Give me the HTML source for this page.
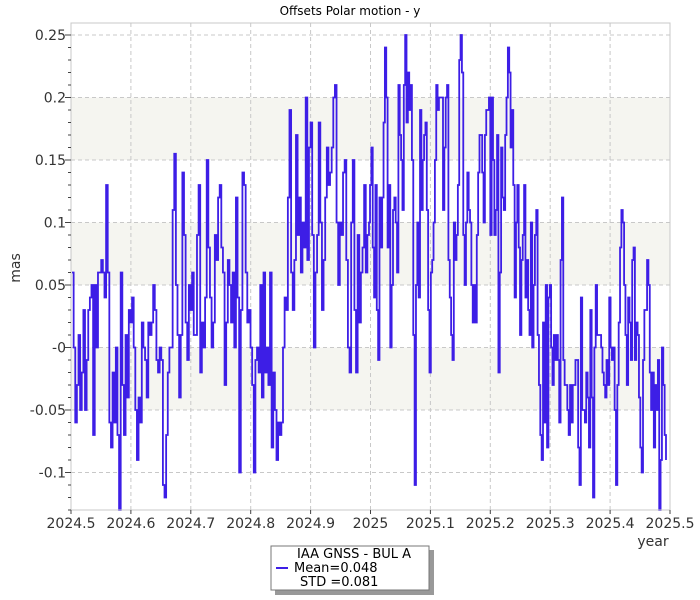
<!DOCTYPE html>
<html><head><meta charset="utf-8"><style>
html,body{margin:0;padding:0;background:#fff;}
svg{display:block;font-family:"DejaVu Sans","Liberation Sans",sans-serif;}
</style></head><body>
<svg id="chart" width="700" height="600" viewBox="0 0 700 600">
<text x="350" y="15" text-anchor="middle" font-size="12" fill="#000">Offsets Polar motion - y</text>
<g id="bands"></g>
<g id="grid"></g>
<g id="series"></g>
<rect x="71" y="23" width="599" height="487" fill="none" stroke="#c8c8c8"/>
<g id="axes"></g>
<text x="20" y="268" text-anchor="middle" font-size="14" fill="#333" transform="rotate(-90 20 268)">mas</text>
<text x="653" y="546" text-anchor="middle" font-size="14" fill="#333">year</text>
<g>
<rect x="275" y="550" width="159" height="45" fill="#999"/>
<rect x="271" y="546" width="158" height="44" fill="#fff" stroke="#777"/>
<line x1="276" y1="568" x2="288" y2="568" stroke="#3d1ee6" stroke-width="2"/>
<text x="297" y="558" font-size="13" fill="#000">IAA GNSS - BUL A</text>
<text x="294" y="572" font-size="13" fill="#000">Mean=0.048</text>
<text x="300" y="586" font-size="13" fill="#000">STD =0.081</text>
</g>
</svg>
<script>
const xTicks=[2024.5,2024.6,2024.7,2024.8,2024.9,2025,2025.1,2025.2,2025.3,2025.4,2025.5];
const xTickLabels=["2024.5","2024.6","2024.7","2024.8","2024.9","2025","2025.1","2025.2","2025.3","2025.4","2025.5"];
const yTicks=[0.25,0.2,0.15,0.1,0.05,0,-0.05,-0.1];
const yTickLabels=["0.25","0.2","0.15","0.1","0.05","-0","-0.05","-0.1"];
const bandRanges=[[0.15,0.2],[0.05,0.1],[-0.05,0]];
const start2024=2024.5017;
const end2024=2024.9975;
const values2024=[
0.06,0.0,-0.06,-0.03,0.01,-0.05,-0.02,0.03,-0.05,-0.01,0.03,0.04,0.05,-0.07,0.05,0.0,0.06,0.06,0.07,0.06,0.04,0.13,0.06,-0.06,-0.08,-0.02,-0.06,0.0,-0.07,-0.13,0.06,-0.03,-0.07,0.01,-0.04,0.03,0.02,0.04,0.0,-0.05,-0.09,-0.04,-0.06,0.02,0.0,-0.01,-0.04,0.02,0.01,0.02,0.05,0.03,-0.01,-0.02,0.0,-0.01,-0.11,-0.12,-0.07,-0.02,0.0,0.0,0.11,0.155,0.05,0.01,-0.04,0.01,0.14,0.09,0.02,-0.01,0.05,0.03,0.06,0.01,0.01,0.09,0.13,-0.02,0.02,0.0,0.04,0.15,0.08,0.04,0.0,0.02,0.09,0.07,0.12,0.13,0.08,0.06,-0.03,0.02,0.07,0.05,0.02,0.06,0.0,0.12,0.04,-0.1,0.03,0.14,0.13,0.06,0.02,0.03,0.0,-0.03,-0.1,-0.01,0.0,-0.02,0.05,-0.04,0.06,-0.02,0.0,-0.03,0.06,-0.08,-0.02,-0.05,-0.09,-0.06,-0.07,-0.06,0.0,0.04,0.03,0.12,0.19,0.06,0.03,0.07,0.17,0.09,0.12,0.06,0.1,0.08,0.2,0.07,0.16,0.18,0.09,0.0,0.06,0.09,0.18,0.1,0.03,0.07,0.12,0.16,0.13,0.14,0.16,0.2,0.21,0.1,0.05,0.1,0.09,0.14,0.15,0.07,0.0,-0.02,0.1,0.15,0.03,-0.02,0.09,0.02,0.06,0.08,0.13,0.06,0.09,0.1
];
const start2025=2024.9992;
const end2025=2025.4933;
const values2025=[
0.13,0.16,0.08,0.04,0.13,0.03,-0.01,0.12,0.08,0.12,0.18,0.24,0.2,0.08,0.13,0.0,0.05,0.11,0.12,0.1,0.06,0.21,0.17,0.15,0.11,0.21,0.25,0.18,0.22,0.19,0.21,0.15,0.01,-0.11,0.05,0.1,0.04,0.19,0.11,0.15,0.17,0.18,0.11,0.03,-0.02,0.06,0.07,0.1,0.15,0.21,0.19,0.2,0.2,0.2,0.11,0.16,0.2,0.21,0.07,0.04,0.01,-0.01,0.1,0.07,0.09,0.13,0.23,0.25,0.22,0.09,0.05,0.1,0.14,0.11,0.1,0.05,0.02,0.05,0.02,0.09,0.14,0.17,0.17,0.14,0.1,0.17,0.19,0.19,0.2,0.09,0.2,0.15,0.09,0.11,0.17,-0.02,0.06,0.16,0.12,0.11,0.17,0.2,0.24,0.22,0.16,0.19,0.13,0.04,0.1,0.13,0.08,0.01,0.07,0.09,0.13,0.04,0.07,0.03,0.01,0.1,0.0,0.05,0.09,0.11,0.01,-0.03,-0.07,-0.09,0.02,-0.06,0.05,-0.08,0.04,0.05,0.0,-0.03,0.01,-0.01,0.01,-0.01,-0.06,0.07,0.12,-0.01,-0.03,-0.03,-0.05,-0.07,-0.03,-0.06,-0.03,-0.03,-0.01,-0.01,-0.08,-0.11,0.04,-0.05,-0.05,-0.06,-0.02,-0.04,-0.08,0.03,-0.04,-0.12,0.0,0.05,0.01,0.01,0.01,0.0,-0.02,-0.03,-0.04,-0.01,-0.03,0.04,0.0,-0.01,0.0,-0.05,-0.11,-0.03,0.02,0.08,0.11,0.1,0.05,0.01,-0.03,0.04,0.02,-0.01,0.07,0.08,-0.01,0.02,0.01,-0.04,-0.08,-0.1,-0.01,0.03,0.03,0.07,0.05,-0.02,-0.05,-0.02,-0.08,-0.03,-0.05,-0.01,-0.13,-0.09,0.0,-0.03,-0.07,-0.09
];
const NS="http://www.w3.org/2000/svg";
const L=71,R=670,T=23,B=510;
function xs(t){return L+(t-2024.5)/(1.0)*(R-L);}
function ys(v){return 347.5-v*1250;}
function mk(tag,attrs,parent){const e=document.createElementNS(NS,tag);for(const k in attrs)e.setAttribute(k,attrs[k]);parent.appendChild(e);return e;}
const bands=document.getElementById('bands'),grid=document.getElementById('grid'),axes=document.getElementById('axes'),series=document.getElementById('series');
bandRanges.forEach(b=>{
 const r=mk('rect',{x:L,y:ys(b[1]),width:R-L,height:ys(b[0])-ys(b[1]),fill:'#f5f5f0'},bands);
 
 
});
yTicks.forEach((v,i)=>{
 const y=ys(v);
 const g=mk('line',{x1:L,y1:y,x2:R,y2:y,stroke:'#c8c8c8','stroke-dasharray':'4,3'},grid);
 
 
 const t=mk('line',{x1:L-6,y1:y,x2:L,y2:y,stroke:'#444'},axes);
 
 
 const lb=mk('text',{x:L-5,y:y+5,'text-anchor':'end','font-size':'14',fill:'#333'},axes);
 lb.textContent=yTickLabels[i];
 
 
});
for(let k=-13;k<=25;k++){
 const v=k/100;const y=ys(v);
 if(y<T||y>B)continue;
 const m=mk('line',{x1:L-3,y1:y,x2:L,y2:y,stroke:'#444'},axes);
 
 
}
xTicks.forEach((t,i)=>{
 const x=xs(t);
 if(i>0&&i<xTicks.length-1){
  const g=mk('line',{x1:x,y1:T,x2:x,y2:B,stroke:'#c8c8c8','stroke-dasharray':'4,3'},grid);
  
  
 }
 const tk=mk('line',{x1:x,y1:B,x2:x,y2:B+4,stroke:'#444'},axes);
 
 
 const lb=mk('text',{x:x,y:B+18,'text-anchor':'middle','font-size':'14',fill:'#333'},axes);
 lb.textContent=xTickLabels[i];
 
 
});
function segPts(vals,t0,t1){
 const n=vals.length;
 return vals.map((v,i)=>[xs(t0+i*(t1-t0)/(n-1)),ys(v)]);
}
const all=segPts(values2024,start2024,end2024).concat(segPts(values2025,start2025,end2025));
let d='M'+all[0][0].toFixed(2)+','+all[0][1].toFixed(2);
for(let i=1;i<all.length;i++){
 d+=' H'+all[i][0].toFixed(2)+' V'+all[i][1].toFixed(2);
}
const pl=mk('path',{d:d,fill:'none',stroke:'#3d1ee6','stroke-width':'1.8'},series);


</script>
</body></html>
